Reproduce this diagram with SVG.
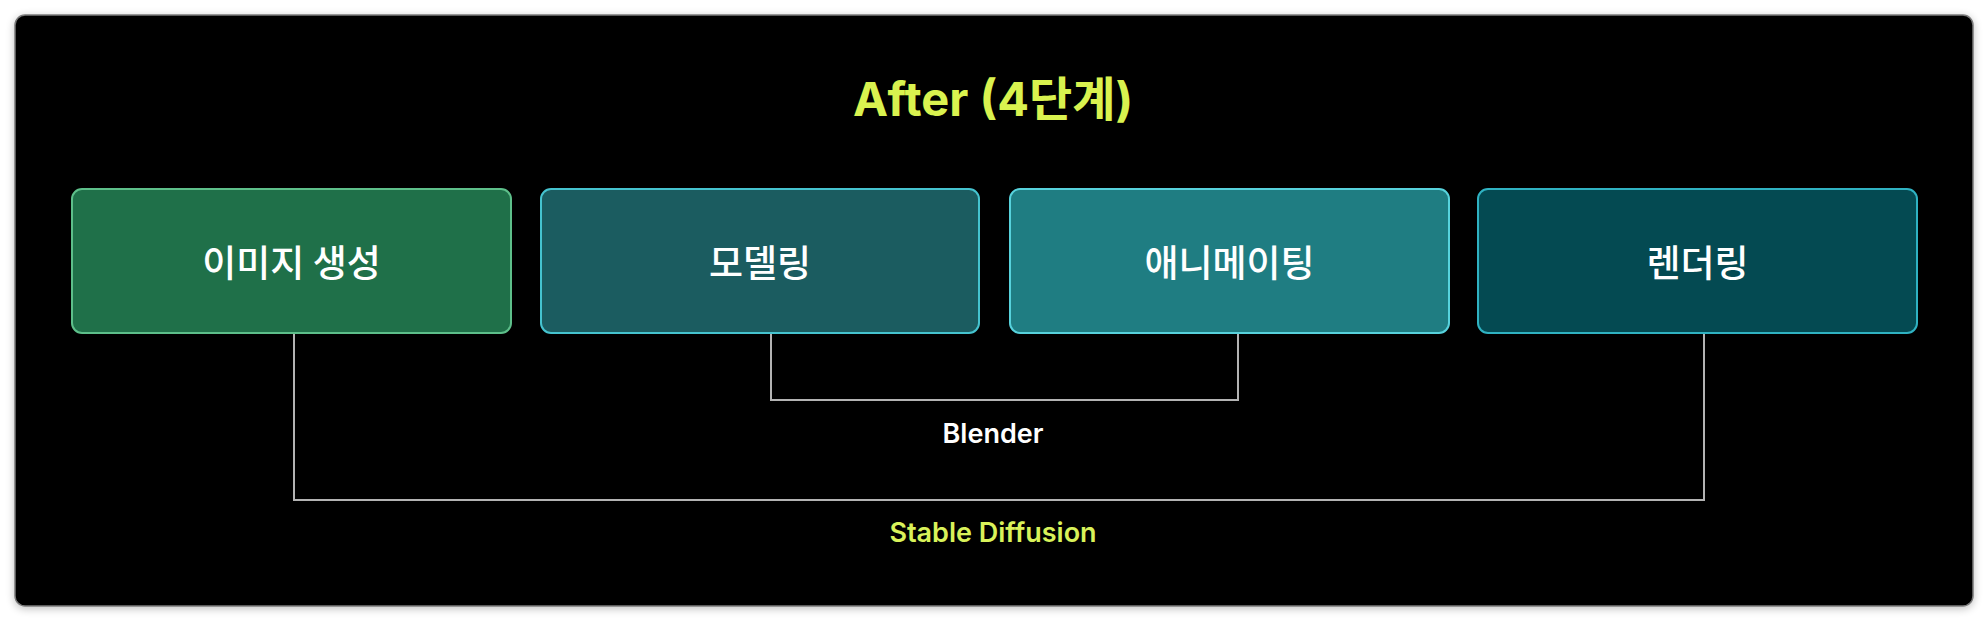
<svg xmlns="http://www.w3.org/2000/svg" width="1988" height="622" viewBox="0 0 1988 622">
  <defs>
    <filter id="shadow" x="-5%" y="-10%" width="110%" height="120%">
      <feGaussianBlur in="SourceAlpha" stdDeviation="4"/>
      <feOffset dx="0" dy="2" result="b"/>
      <feComponentTransfer><feFuncA type="linear" slope="0.25"/></feComponentTransfer>
      <feMerge><feMergeNode/><feMergeNode in="SourceGraphic"/></feMerge>
    </filter>
  </defs>
  <style>
    .box { stroke-width: 2; }
    .lbl { font-family: "Noto Sans CJK KR", "Noto Sans", sans-serif; font-size: 37px; font-weight: 500; fill: #ffffff; text-anchor: middle; dominant-baseline: central; }
    .conn { fill: none; stroke: #b3b3b3; stroke-width: 2; }
    .clbl { font-family: "Inter", "Noto Sans", sans-serif; font-weight: 600; text-anchor: middle; }
  </style>
  <rect x="0" y="0" width="1988" height="622" fill="#ffffff"/>
  <rect x="15" y="15" width="1958" height="591" rx="10" ry="10" fill="#000000" stroke="#7a7a7a" stroke-width="1.5" filter="url(#shadow)"/>
  <text id="title" x="993" y="116" font-family="Inter, 'Noto Sans CJK KR', sans-serif" font-size="47" font-weight="700" fill="#d9f24f" text-anchor="middle">After (4단계)</text>

  <g id="connectors">
    <polyline class="conn" points="771,334 771,400 1238,400 1238,334"/>
    <polyline class="conn" points="294,334 294,500 1704,500 1704,334"/>
    <text class="clbl" x="993" y="443" font-size="27" fill="#ffffff">Blender</text>
    <text class="clbl" x="993" y="542" font-size="27" fill="#d9f25a">Stable Diffusion</text>
  </g>

  <g id="node-image">
    <rect class="box" x="72" y="189" width="439" height="144" rx="10" fill="#1f7049" stroke="#5dbf8a"/>
    <text class="lbl" x="291.5" y="261">이미지 생성</text>
  </g>
  <g id="node-modeling">
    <rect class="box" x="541" y="189" width="438" height="144" rx="10" fill="#1b5c60" stroke="#45c3cf"/>
    <text class="lbl" x="760" y="261">모델링</text>
  </g>
  <g id="node-animating">
    <rect class="box" x="1010" y="189" width="439" height="144" rx="10" fill="#1f7d82" stroke="#57d2dc"/>
    <text class="lbl" x="1229.5" y="261">애니메이팅</text>
  </g>
  <g id="node-rendering">
    <rect class="box" x="1478" y="189" width="439" height="144" rx="10" fill="#044a52" stroke="#2fb2c2"/>
    <text class="lbl" x="1697.5" y="261">렌더링</text>
  </g>
</svg>
